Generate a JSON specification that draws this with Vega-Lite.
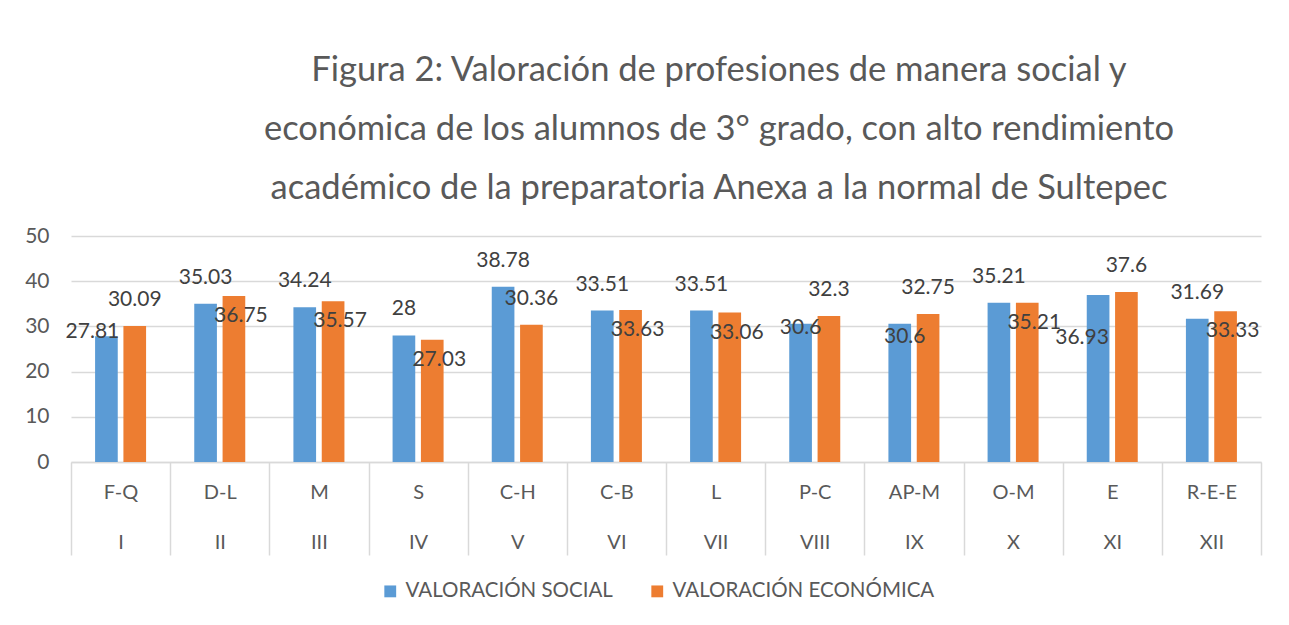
{
  "$schema": "https://vega.github.io/schema/vega-lite/v6.json",
  "width": 1190,
  "height": 226,
  "autosize": {"type": "none"},
  "padding": {"left": 71, "top": 236, "right": 28, "bottom": 163},
  "background": "white",
  "config": {"font": "Lato", "view": {"stroke": null}},
  "title": {
    "text": ["Figura 2: Valoración de profesiones de manera social y", "económica de los alumnos de 3° grado, con alto rendimiento", "académico de la preparatoria Anexa a la normal de Sultepec"],
    "font": "Lato",
    "fontSize": 34.5,
    "fontWeight": "normal",
    "color": "#595959",
    "lineHeight": 59,
    "anchor": "middle",
    "dx": 53,
    "offset": 19
  },
  "data": {
    "values": [
      {"prof": "F-Q", "num": "I", "serie": "VALORACIÓN SOCIAL", "valor": 27.81},
      {"prof": "F-Q", "num": "I", "serie": "VALORACIÓN ECONÓMICA", "valor": 30.09},
      {"prof": "D-L", "num": "II", "serie": "VALORACIÓN SOCIAL", "valor": 35.03},
      {"prof": "D-L", "num": "II", "serie": "VALORACIÓN ECONÓMICA", "valor": 36.75},
      {"prof": "M", "num": "III", "serie": "VALORACIÓN SOCIAL", "valor": 34.24},
      {"prof": "M", "num": "III", "serie": "VALORACIÓN ECONÓMICA", "valor": 35.57},
      {"prof": "S", "num": "IV", "serie": "VALORACIÓN SOCIAL", "valor": 28},
      {"prof": "S", "num": "IV", "serie": "VALORACIÓN ECONÓMICA", "valor": 27.03},
      {"prof": "C-H", "num": "V", "serie": "VALORACIÓN SOCIAL", "valor": 38.78},
      {"prof": "C-H", "num": "V", "serie": "VALORACIÓN ECONÓMICA", "valor": 30.36},
      {"prof": "C-B", "num": "VI", "serie": "VALORACIÓN SOCIAL", "valor": 33.51},
      {"prof": "C-B", "num": "VI", "serie": "VALORACIÓN ECONÓMICA", "valor": 33.63},
      {"prof": "L", "num": "VII", "serie": "VALORACIÓN SOCIAL", "valor": 33.51},
      {"prof": "L", "num": "VII", "serie": "VALORACIÓN ECONÓMICA", "valor": 33.06},
      {"prof": "P-C", "num": "VIII", "serie": "VALORACIÓN SOCIAL", "valor": 30.6},
      {"prof": "P-C", "num": "VIII", "serie": "VALORACIÓN ECONÓMICA", "valor": 32.3},
      {"prof": "AP-M", "num": "IX", "serie": "VALORACIÓN SOCIAL", "valor": 30.6},
      {"prof": "AP-M", "num": "IX", "serie": "VALORACIÓN ECONÓMICA", "valor": 32.75},
      {"prof": "O-M", "num": "X", "serie": "VALORACIÓN SOCIAL", "valor": 35.21},
      {"prof": "O-M", "num": "X", "serie": "VALORACIÓN ECONÓMICA", "valor": 35.21},
      {"prof": "E", "num": "XI", "serie": "VALORACIÓN SOCIAL", "valor": 36.93},
      {"prof": "E", "num": "XI", "serie": "VALORACIÓN ECONÓMICA", "valor": 37.6},
      {"prof": "R-E-E", "num": "XII", "serie": "VALORACIÓN SOCIAL", "valor": 31.69},
      {"prof": "R-E-E", "num": "XII", "serie": "VALORACIÓN ECONÓMICA", "valor": 33.33}
    ]
  },
  "transform": [{"calculate": "datum.prof + '|' + datum.num", "as": "cat"}],
  "encoding": {
    "x": {
      "field": "cat",
      "type": "nominal",
      "sort": null,
      "scale": {"paddingInner": 0, "paddingOuter": 0},
      "axis": {
        "title": null,
        "labelExpr": "datum.value ? split(datum.value, '|') : ''",
        "labelAngle": 0,
        "labelFontSize": 20,
        "labelColor": "#595959",
        "labelLineHeight": 50,
        "labelPadding": -73,
        "labelOverlap": false,
        "labelBound": false,
        "tickBand": "extent",
        "tickSize": 93,
        "tickColor": "#d9d9d9",
        "tickWidth": 1.5,
        "domainColor": "#d9d9d9",
        "domainWidth": 1.5,
        "grid": false
      }
    },
    "xOffset": {
      "field": "serie",
      "type": "nominal",
      "sort": ["VALORACIÓN SOCIAL", "VALORACIÓN ECONÓMICA"],
      "scale": {"paddingInner": 0.2, "paddingOuter": 0.85}
    },
    "y": {
      "field": "valor",
      "type": "quantitative",
      "scale": {"domain": [0, 50]},
      "axis": {
        "title": null,
        "values": [0, 10, 20, 30, 40, 50],
        "labelFontSize": 21,
        "labelColor": "#595959",
        "labelPadding": 22,
        "domain": false,
        "ticks": false,
        "gridColor": "#d9d9d9",
        "gridWidth": 1.5
      }
    }
  },
  "layer": [
    {
      "mark": {"type": "bar"},
      "encoding": {
        "color": {
          "field": "serie",
          "type": "nominal",
          "scale": {"domain": ["VALORACIÓN SOCIAL", "VALORACIÓN ECONÓMICA"], "range": ["#5B9BD5", "#ED7D31"]},
          "legend": {
            "title": null,
            "orient": "none",
            "legendX": 309,
            "legendY": 345,
            "direction": "horizontal",
            "labelFontSize": 20.5,
            "labelColor": "#595959",
            "labelLimit": 400,
            "symbolType": "square",
            "symbolSize": 140,
            "symbolStrokeWidth": 0,
            "labelOffset": 5,
            "columnPadding": 34
          }
        }
      }
    },
    {
      "transform": [{"filter": "datum.serie == 'VALORACIÓN SOCIAL' && indexof(['F-Q','P-C','AP-M','E'], datum.prof) < 0"}],
      "mark": {"type": "text", "baseline": "middle", "dy": -26, "fontSize": 21, "color": "#404040"},
      "encoding": {"text": {"field": "valor", "type": "nominal"}}
    },
    {
      "transform": [{"filter": "datum.serie == 'VALORACIÓN SOCIAL' && datum.prof == 'F-Q'"}],
      "mark": {"type": "text", "baseline": "middle", "dx": -14, "dy": -4, "fontSize": 21, "color": "#404040"},
      "encoding": {"text": {"field": "valor", "type": "nominal"}}
    },
    {
      "transform": [{"filter": "datum.serie == 'VALORACIÓN SOCIAL' && datum.prof == 'P-C'"}],
      "mark": {"type": "text", "baseline": "middle", "dx": 0, "dy": 4, "fontSize": 21, "color": "#404040"},
      "encoding": {"text": {"field": "valor", "type": "nominal"}}
    },
    {
      "transform": [{"filter": "datum.serie == 'VALORACIÓN SOCIAL' && datum.prof == 'AP-M'"}],
      "mark": {"type": "text", "baseline": "middle", "dx": 5, "dy": 13, "fontSize": 21, "color": "#404040"},
      "encoding": {"text": {"field": "valor", "type": "nominal"}}
    },
    {
      "transform": [{"filter": "datum.serie == 'VALORACIÓN SOCIAL' && datum.prof == 'E'"}],
      "mark": {"type": "text", "baseline": "middle", "dx": -16, "dy": 43, "fontSize": 21, "color": "#404040"},
      "encoding": {"text": {"field": "valor", "type": "nominal"}}
    },
    {
      "transform": [{"filter": "datum.serie == 'VALORACIÓN ECONÓMICA' && indexof(['F-Q','C-H','P-C','AP-M','E'], datum.prof) >= 0"}],
      "mark": {"type": "text", "baseline": "middle", "dy": -26, "fontSize": 21, "color": "#404040"},
      "encoding": {"text": {"field": "valor", "type": "nominal"}}
    },
    {
      "transform": [{"filter": "datum.serie == 'VALORACIÓN ECONÓMICA' && indexof(['F-Q','C-H','P-C','AP-M','E'], datum.prof) < 0"}],
      "mark": {"type": "text", "baseline": "middle", "dx": 7, "dy": 20, "fontSize": 21, "color": "#404040"},
      "encoding": {"text": {"field": "valor", "type": "nominal"}}
    }
  ]
}
